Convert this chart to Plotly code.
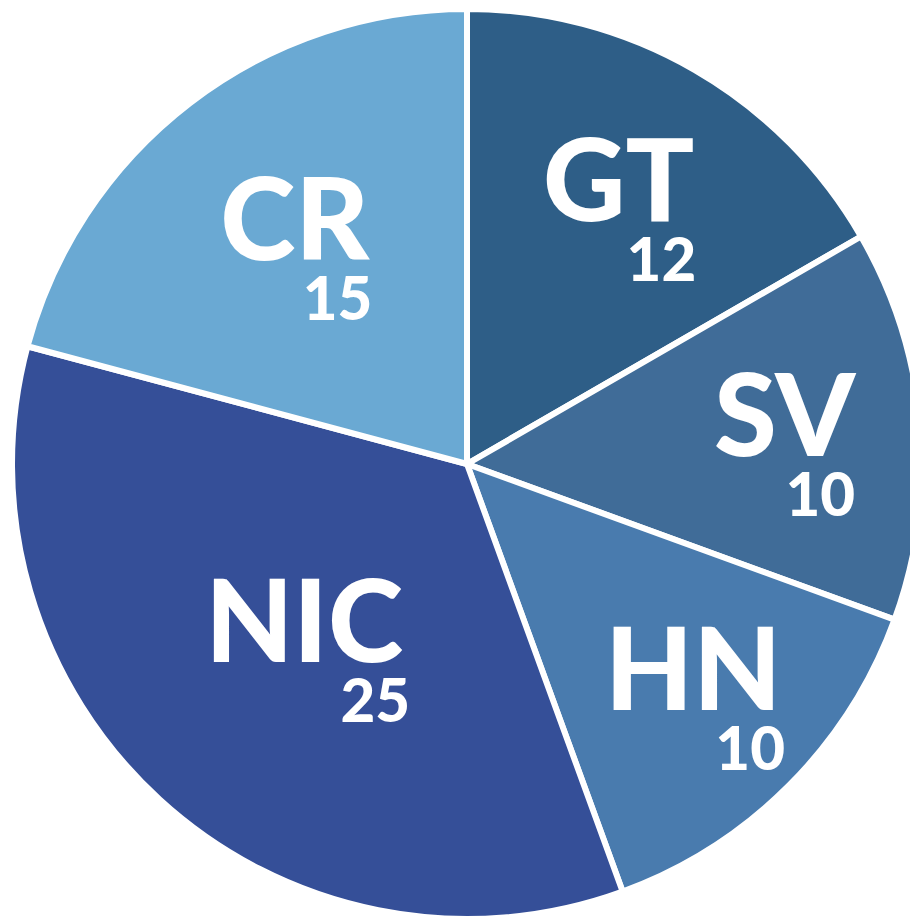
import plotly.graph_objects as go

labels = ["GT", "SV", "HN", "NIC", "CR"]
values = [12, 10, 10, 25, 15]
colors = ["#2E5E87", "#406C98", "#497BAE", "#354F98", "#6AA9D3"]

LABEL_SIZE = 114
NUM_SIZE = 60
# approximate Lato advance widths (em)
ADV = {"G": 0.72, "T": 0.58, "S": 0.54, "V": 0.66, "H": 0.74, "N": 0.75,
       "I": 0.30, "C": 0.64, "R": 0.63}
DIGIT = 0.58
SPACE = 0.193


def tmpl(lab, val):
    lw = sum(ADV.get(c, 0.65) for c in lab) * LABEL_SIZE - 10
    nw = len(str(val)) * DIGIT * NUM_SIZE
    n = max(0, round((lw - nw) / (SPACE * NUM_SIZE)))
    pad = "\u00a0" * n
    return (f"<span style='font-size:{LABEL_SIZE}px'>%{{label}}</span><br>"
            f"<span style='font-size:{NUM_SIZE}px'>{pad}%{{value}}</span>")


fig = go.Figure(go.Pie(
    labels=labels,
    values=values,
    sort=False,
    direction="clockwise",
    rotation=0,
    marker=dict(colors=colors, line=dict(color="white", width=6)),
    texttemplate=[tmpl(l, v) for l, v in zip(labels, values)],
    textposition="inside",
    insidetextorientation="horizontal",
    textfont=dict(family="Lato", color="white", size=46, weight=900),
    hoverinfo="label+value",
    showlegend=False,
    domain=dict(x=[0, 1], y=[7 / 918, 917 / 918]),
))
fig.update_layout(
    width=918, height=918,
    margin=dict(l=0, r=0, t=0, b=0),
    paper_bgcolor="white",
    plot_bgcolor="white",
)
fig.write_html(
    "out.html",
    post_script="document.documentElement.style.overflow='hidden';"
                "document.body.style.overflow='hidden';"
                "document.body.style.marginRight='0px';",
)
